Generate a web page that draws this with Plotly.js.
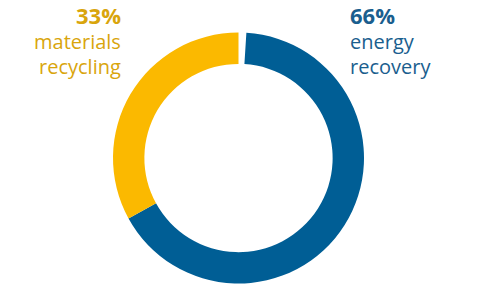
<!DOCTYPE html>
<html><head><meta charset="utf-8">
<script src="https://cdn.plot.ly/plotly-3.0.1.min.js"></script>
<style>html,body{margin:0;padding:0;background:#fff;}#chart{width:489px;height:292px;}</style>
</head><body><div id="chart"></div>
<script>
const categories = ["gap", "energy recovery", "materials recycling"];
const values = [1, 66, 33];
const colors = ["#ffffff", "#005e95", "#fbb900"];
const labelPct = ["66%", "33%"];
const labelText = [["energy", "recovery"], ["materials", "recycling"]];

const W = 489, H = 292;
const cx = 238.5, cy = 158, R = 125.5;

const trace = {
  type: "pie",
  labels: categories,
  values: values,
  sort: false,
  direction: "clockwise",
  rotation: 0,
  hole: 0.75,
  textinfo: "none",
  hoverinfo: "skip",
  marker: {colors: colors, line: {width: 0}},
  domain: {x: [(cx - R) / W, (cx + R) / W], y: [(H - cy - R) / H, (H - cy + R) / H]}
};

// per-line vertical centres (px from top) and text anchors
const lineY = [14.5, 41.5, 66.5];
const blocks = [
  {i: 1, x: 123, anchor: "right", color: "#d9a50c"},
  {i: 0, x: 348, anchor: "left", color: "#1a5e8e"}
];

const annotations = [];
blocks.forEach(b => {
  const lines = [labelPct[b.i]].concat(labelText[b.i]);
  lines.forEach((t, k) => {
    annotations.push({
      xref: "paper", yref: "paper", x: b.x / W, y: 1 - lineY[k] / H,
      xanchor: b.anchor, yanchor: "middle", showarrow: false,
      text: k === 0 ? "<b>" + t + "</b>" : t,
      font: {size: k === 0 ? 22 : 20, color: b.color, family: "Open Sans, sans-serif"}
    });
  });
});

const layout = {
  width: W, height: H,
  margin: {l: 0, r: 0, t: 0, b: 0},
  paper_bgcolor: "#ffffff",
  showlegend: false,
  font: {family: "Open Sans, sans-serif"},
  annotations: annotations
};

Plotly.newPlot("chart", [trace], layout, {staticPlot: true, displayModeBar: false});
</script></body></html>
